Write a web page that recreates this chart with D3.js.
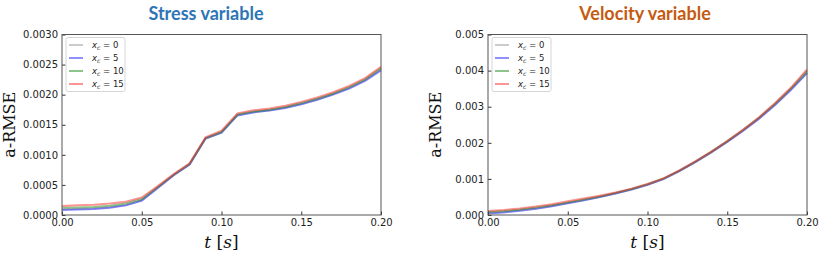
<!DOCTYPE html>
<html>
<head>
<meta charset="utf-8">
<script src="https://cdn.jsdelivr.net/npm/d3@7"></script>
<style>
  body { margin: 0; background: #fff; }
  svg { display: block; }
  .tick text { font-family: "DejaVu Sans", sans-serif; font-size: 10px; fill: #222; }
</style>
</head>
<body>
<div id="chart"></div>
<script>
// time steps in seconds
const times = [0, 0.01, 0.02, 0.03, 0.04, 0.05, 0.06, 0.07, 0.08, 0.09, 0.10,
               0.11, 0.12, 0.13, 0.14, 0.15, 0.16, 0.17, 0.18, 0.19, 0.20];

const seriesNames = ["0", "5", "10", "15"];
const seriesColors = ["#9a9a9a", "#1f1fff", "#1a8a1a", "#ff2a2a"];

// Stress variable a-RMSE per x_c
const stressXc0  = [0.000095, 0.000100, 0.000110, 0.000130, 0.000165, 0.000240, 0.000450, 0.000660, 0.000840, 0.001270, 0.001370, 0.001660, 0.001710, 0.001740, 0.001785, 0.001845, 0.001920, 0.002010, 0.002110, 0.002240, 0.002420];
const stressXc5  = [0.000085, 0.000090, 0.000100, 0.000120, 0.000160, 0.000240, 0.000450, 0.000660, 0.000840, 0.001270, 0.001370, 0.001655, 0.001705, 0.001735, 0.001780, 0.001840, 0.001915, 0.002000, 0.002100, 0.002230, 0.002405];
const stressXc10 = [0.000120, 0.000125, 0.000135, 0.000155, 0.000190, 0.000265, 0.000465, 0.000670, 0.000850, 0.001280, 0.001380, 0.001670, 0.001720, 0.001750, 0.001795, 0.001860, 0.001935, 0.002020, 0.002125, 0.002255, 0.002440];
const stressXc15 = [0.000150, 0.000160, 0.000170, 0.000190, 0.000220, 0.000290, 0.000480, 0.000680, 0.000860, 0.001290, 0.001400, 0.001690, 0.001740, 0.001770, 0.001815, 0.001880, 0.001955, 0.002040, 0.002145, 0.002275, 0.002465];

// Velocity variable a-RMSE per x_c
const velocityXc0  = [0.000060, 0.000090, 0.000130, 0.000180, 0.000250, 0.000330, 0.000410, 0.000500, 0.000600, 0.000710, 0.000840, 0.001000, 0.001220, 0.001470, 0.001740, 0.002030, 0.002340, 0.002680, 0.003060, 0.003480, 0.003940];
const velocityXc5  = [0.000040, 0.000070, 0.000115, 0.000170, 0.000240, 0.000325, 0.000405, 0.000495, 0.000595, 0.000705, 0.000835, 0.000995, 0.001215, 0.001465, 0.001735, 0.002025, 0.002335, 0.002670, 0.003050, 0.003470, 0.003930];
const velocityXc10 = [0.000080, 0.000110, 0.000150, 0.000205, 0.000270, 0.000350, 0.000430, 0.000515, 0.000610, 0.000720, 0.000850, 0.001010, 0.001230, 0.001480, 0.001750, 0.002045, 0.002360, 0.002700, 0.003085, 0.003510, 0.003990];
const velocityXc15 = [0.000110, 0.000140, 0.000180, 0.000235, 0.000300, 0.000380, 0.000455, 0.000535, 0.000625, 0.000730, 0.000860, 0.001015, 0.001235, 0.001485, 0.001755, 0.002050, 0.002365, 0.002710, 0.003100, 0.003530, 0.004030];

const xTicks = [0, 0.05, 0.10, 0.15, 0.20];
const stressTicks = [0, 0.0005, 0.0010, 0.0015, 0.0020, 0.0025, 0.0030];
const velocityTicks = [0, 0.001, 0.002, 0.003, 0.004, 0.005];

const width = 822;
const height = 259;

const svg = d3.select("#chart")
    .append("svg")
    .attr("width", width)
    .attr("height", height)
    .attr("viewBox", [0, 0, width, height]);

function drawPanel(opts) {
    const { left, right, top, bottom, title, titleX, titleColor, yMax, yTicks, yFormat, series } = opts;

    const x = d3.scaleLinear().domain([0, 0.2]).range([left, right]);
    const y = d3.scaleLinear().domain([0, yMax]).range([bottom, top]);

    const g = svg.append("g");

    // lines
    const line = d3.line()
        .x((d, i) => x(times[i]))
        .y(d => y(d));

    series.forEach((vals, k) => {
        g.append("path")
            .datum(vals)
            .attr("fill", "none")
            .attr("stroke", seriesColors[k])
            .attr("stroke-opacity", 0.5)
            .attr("stroke-width", 2)
            .attr("d", line);
    });

    // axes (ticks inside)
    g.append("g")
        .attr("transform", `translate(0,${bottom})`)
        .call(d3.axisBottom(x).tickValues(xTicks).tickFormat(d3.format(".2f")).tickSizeInner(-3.5).tickSizeOuter(0).tickPadding(4))
        .call(a => a.select(".domain").remove())
        .call(a => a.selectAll(".tick line").attr("stroke", "#333"));

    g.append("g")
        .attr("transform", `translate(${left},0)`)
        .call(d3.axisLeft(y).tickValues(yTicks).tickFormat(d3.format(yFormat)).tickSizeInner(-3.5).tickSizeOuter(0).tickPadding(4))
        .call(a => a.select(".domain").remove())
        .call(a => a.selectAll(".tick line").attr("stroke", "#333"));

    // frame
    g.append("rect")
        .attr("x", left)
        .attr("y", top)
        .attr("width", right - left)
        .attr("height", bottom - top)
        .attr("fill", "none")
        .attr("stroke", "#555")
        .attr("stroke-width", 1);

    // title
    g.append("text")
        .attr("x", titleX)
        .attr("y", 20)
        .attr("text-anchor", "middle")
        .attr("font-family", "Lato, 'Open Sans', sans-serif")
        .attr("font-weight", 700)
        .attr("font-size", 18)
        .attr("fill", titleColor)
        .text(title);

    // y label
    g.append("text")
        .attr("transform", `translate(${left - 47},${(top + bottom) / 2}) rotate(-90)`)
        .attr("text-anchor", "middle")
        .attr("font-family", "'DejaVu Serif', 'Liberation Serif', serif")
        .attr("font-size", 16)
        .attr("fill", "#111")
        .text("a-RMSE");

    // x label
    const xl = g.append("text")
        .attr("x", (left + right) / 2)
        .attr("y", bottom + 33)
        .attr("text-anchor", "middle")
        .attr("font-family", "'DejaVu Serif', 'Liberation Serif', serif")
        .attr("font-size", 17)
        .attr("fill", "#111");
    xl.append("tspan").attr("font-style", "italic").text("t");
    xl.append("tspan").text(" [");
    xl.append("tspan").attr("font-style", "italic").text("s");
    xl.append("tspan").text("]");

    // legend
    const lg = g.append("g").attr("transform", `translate(${left + 4},${top + 3})`);
    lg.append("rect")
        .attr("width", 59)
        .attr("height", 54)
        .attr("rx", 2)
        .attr("fill", "#fff")
        .attr("fill-opacity", 0.8)
        .attr("stroke", "#ccc")
        .attr("stroke-width", 0.8);

    const item = lg.selectAll("g.item")
        .data(seriesNames)
        .join("g")
        .attr("class", "item")
        .attr("transform", (d, i) => `translate(0,${7.5 + i * 13})`);

    item.append("line")
        .attr("x1", 3)
        .attr("x2", 17)
        .attr("stroke", (d, i) => seriesColors[i])
        .attr("stroke-opacity", 0.5)
        .attr("stroke-width", 2);

    const t = item.append("text")
        .attr("x", 26)
        .attr("y", 3)
        .attr("font-family", "'DejaVu Sans', sans-serif")
        .attr("font-size", 8.5)
        .attr("fill", "#222");
    t.append("tspan").attr("font-style", "italic").text("x");
    t.append("tspan").attr("font-style", "italic").attr("font-size", 6).attr("dy", 2).text("c");
    t.append("tspan").attr("dy", -2).text(" = ");
    t.append("tspan").text(d => d);
}

drawPanel({
    left: 62, right: 381, top: 34.5, bottom: 215,
    title: "Stress variable", titleX: 206, titleColor: "#2e75b6",
    yMax: 0.003, yTicks: stressTicks, yFormat: ".4f",
    series: [stressXc0, stressXc5, stressXc10, stressXc15]
});

drawPanel({
    left: 488, right: 807, top: 34.5, bottom: 215,
    title: "Velocity variable", titleX: 645, titleColor: "#c55a11",
    yMax: 0.005, yTicks: velocityTicks, yFormat: ".3f",
    series: [velocityXc0, velocityXc5, velocityXc10, velocityXc15]
});
</script>
</body>
</html>
